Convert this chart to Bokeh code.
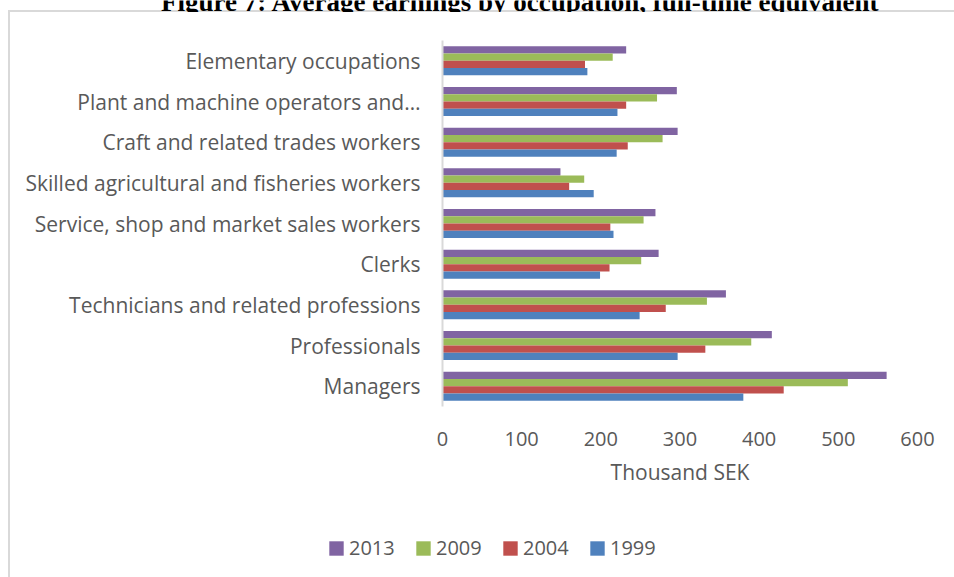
from bokeh.plotting import figure
from bokeh.layouts import column, row
from bokeh.models import (FactorRange, Range1d, Legend, LegendItem,
                          Label, FixedTicker, ColumnDataSource)
from bokeh.transform import dodge
from bokeh.embed import file_html
from bokeh.resources import INLINE

# ---- data (top to bottom as shown) ----
categories = [
    "Elementary occupations",
    "Plant and machine operators and\u2026",
    "Craft and related trades workers",
    "Skilled agricultural and fisheries workers",
    "Service, shop and market sales workers",
    "Clerks",
    "Technicians and related professions",
    "Professionals",
    "Managers",
]
y2013 = [232, 296, 297, 149, 269, 273, 358, 416, 561]
y2009 = [215, 271, 278, 179, 254, 251, 334, 390, 512]
y2004 = [180, 232, 234, 160, 212, 211, 282, 332, 431]
y1999 = [183, 221, 220, 191, 216, 199, 249, 297, 380]
series = ["2013", "2009", "2004", "1999"]
x_ticks = [0, 100, 200, 300, 400, 500, 600]
title_text = "Figure 7: Average earnings by occupation, full-time equivalent"
x_title = "Thousand SEK"

colors = {"2013": "#8064A2", "2009": "#9BBB59", "2004": "#C0504D", "1999": "#4F81BD"}
TXT = "#595959"
GRID = "#d9d9d9"
FONT = "Open Sans"
W = 954

src = ColumnDataSource(dict(cat=categories, y2013=y2013, y2009=y2009,
                            y2004=y2004, y1999=y1999))


def bare(h):
    f = figure(width=W, height=h, output_backend="svg", toolbar_location=None,
               x_axis_location=None, y_axis_location=None,
               x_range=Range1d(0, 1), y_range=Range1d(0, 1),
               frame_width=W, frame_height=h, min_border=0)
    f.outline_line_color = None
    f.xgrid.visible = False
    f.ygrid.visible = False
    f.background_fill_color = None
    f.border_fill_color = None
    return f


# ---- top strip: cropped title + top of chart border ----
pt = bare(12)
pt.styles = {"background-color": "white",
             "box-shadow": f"inset 8px 10px 0 0 white, inset 10px 12px 0 0 {GRID}"}
pt.add_layout(Label(x=520, y=1, x_units="canvas", y_units="canvas", text=title_text,
                    text_align="center", text_baseline="alphabetic",
                    text_font="Liberation Serif", text_font_style="bold",
                    text_font_size="27px", text_color="black"))

# ---- main chart ----
p = figure(width=W, height=488, output_backend="svg", toolbar_location=None,
           y_range=FactorRange(factors=list(reversed(categories)), range_padding=0),
           x_range=Range1d(0, 600),
           frame_width=475, frame_height=366,
           min_border_left=442, min_border_right=37, min_border_top=28,
           min_border_bottom=94)
p.outline_line_color = None
p.xgrid.visible = False
p.ygrid.visible = False
p.background_fill_color = "white"
p.border_fill_color = None
p.styles = {"background-color": "white",
            "box-shadow": f"inset 8px 0 0 0 white, inset 10px 0 0 0 {GRID}"}

bh = 0.178
offsets = {"2013": 0.267, "2009": 0.089, "2004": -0.089, "1999": -0.267}
for s in series:
    p.hbar(y=dodge("cat", offsets[s], range=p.y_range), left=0,
           right="y" + s, height=bh, source=src,
           fill_color=colors[s], line_color=None)

xa = p.xaxis[0]
xa.ticker = FixedTicker(ticks=x_ticks)
xa.axis_line_color = None
xa.major_tick_line_color = None
xa.minor_tick_line_color = None
xa.major_tick_out = 0
xa.major_label_standoff = 25
xa.major_label_text_font = FONT
xa.major_label_text_font_size = "20px"
xa.major_label_text_color = TXT
xa.axis_label = x_title
xa.axis_label_text_font = FONT
xa.axis_label_text_font_size = "21px"
xa.axis_label_text_font_style = "normal"
xa.axis_label_text_color = TXT
xa.axis_label_standoff = 9

ya = p.yaxis[0]
ya.axis_line_color = GRID
ya.axis_line_width = 2
ya.major_tick_line_color = None
ya.minor_tick_line_color = None
ya.major_tick_out = 0
ya.major_label_standoff = 22
ya.major_label_text_font = FONT
ya.major_label_text_font_size = "21px"
ya.major_label_text_color = TXT

# ---- legend strip (legend swatches from hidden copies of the series) ----
pl = bare(77)
pl.styles = {"background-color": "white",
             "box-shadow": f"inset 8px 0 0 0 white, inset 10px 0 0 0 {GRID}"}
items = []
for s in series:
    r = pl.hbar(y=0, right="y" + s, left=0, height=0.1, source=src,
                fill_color=colors[s], line_color=None, visible=False)
    items.append(LegendItem(label=s, renderers=[r]))
legend = Legend(items=items, orientation="horizontal", location=(327, 16),
                border_line_color=None, background_fill_alpha=0,
                padding=0, margin=0, glyph_width=18, glyph_height=18,
                label_standoff=4, label_width=48, label_height=20, spacing=17,
                label_text_font=FONT, label_text_font_size="20px",
                label_text_color=TXT, inactive_fill_alpha=0)
pl.add_layout(legend)

layout = column(row(pt), p, row(pl), spacing=0)
open("out.html", "w").write(file_html(layout, INLINE))
